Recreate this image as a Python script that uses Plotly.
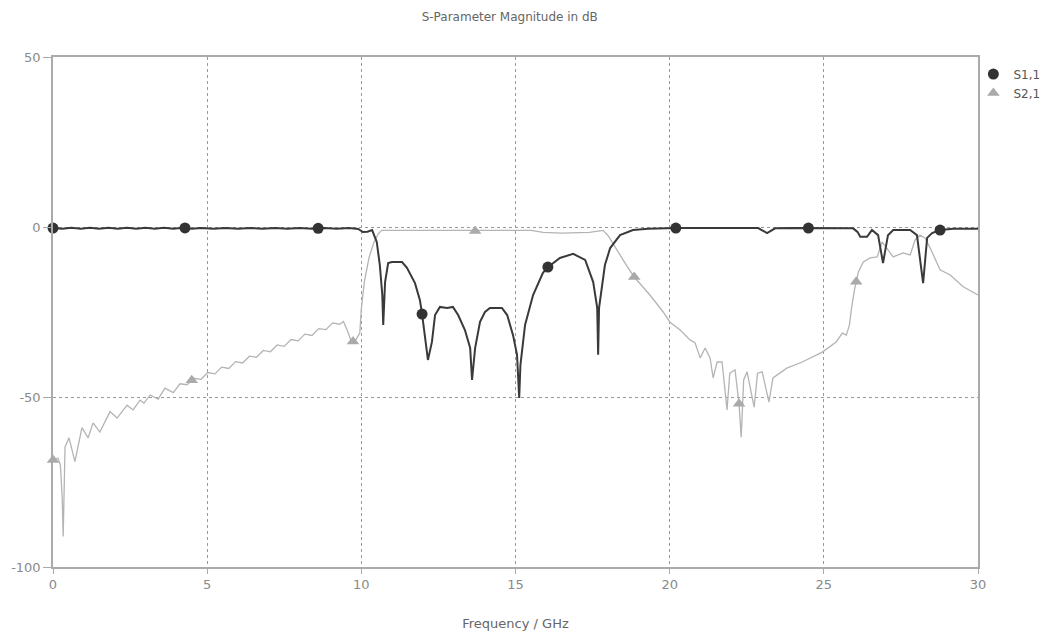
import numpy as np
import plotly.graph_objects as go

# ---------------- data ----------------
s11_x = [0.0, 0.3, 0.6, 0.9, 1.2, 1.5, 1.8, 2.1, 2.4, 2.7, 3.0, 3.3, 3.6, 3.9, 4.2, 4.5,
         4.8, 5.2, 5.6, 6.0, 6.4, 6.8, 7.2, 7.6, 8.0, 8.4, 8.8, 9.2, 9.6, 9.9,
         10.05, 10.2, 10.35, 10.5, 10.6, 10.68, 10.71, 10.77, 10.87, 10.99, 11.32,
         11.48, 11.74, 11.9, 11.97, 12.05, 12.16, 12.29, 12.39, 12.55, 12.78, 12.97,
         13.14, 13.36, 13.53, 13.59, 13.69, 13.85, 14.01, 14.17, 14.56, 14.73, 14.92,
         15.05, 15.12, 15.16, 15.31, 15.57, 15.89, 16.05, 16.44, 16.87, 17.26, 17.52,
         17.65, 17.68, 17.71, 17.9, 18.07, 18.39, 18.81, 19.3, 19.8, 20.2, 21.0, 22.0,
         22.87, 23.16, 23.42, 24.0, 24.5, 25.0, 25.95, 26.1, 26.18, 26.4, 26.56, 26.76,
         26.92, 27.08, 27.25, 27.8, 28.02, 28.22, 28.35, 28.51, 28.77, 29.2, 30.0]
s11_y = [-0.3, -0.5, -0.2, -0.5, -0.2, -0.5, -0.2, -0.5, -0.2, -0.5, -0.2, -0.5, -0.2, -0.5, -0.2, -0.5,
         -0.3, -0.5, -0.3, -0.5, -0.3, -0.5, -0.3, -0.5, -0.3, -0.5, -0.3, -0.5, -0.3, -0.6,
         -1.5, -1.4, -0.9, -4.4, -11.2, -20.0, -28.8, -16.2, -10.6, -10.3, -10.3,
         -12.0, -16.5, -21.5, -25.6, -31.0, -39.1, -33.8, -25.9, -23.5, -23.8, -23.5,
         -25.9, -30.3, -35.6, -45.0, -35.6, -27.9, -25.0, -23.8, -23.8, -25.9, -31.8,
         -37.6, -50.3, -40.6, -28.8, -20.0, -13.5, -11.8, -9.1, -7.9, -9.7, -16.2,
         -23.8, -37.6, -23.8, -11.2, -6.2, -2.4, -0.9, -0.5, -0.3, -0.3, -0.3, -0.3,
         -0.3, -1.8, -0.4, -0.3, -0.3, -0.4, -0.4, -1.5, -2.9, -2.9, -0.9, -2.4,
         -10.6, -2.4, -0.9, -0.9, -2.4, -16.5, -3.2, -1.8, -0.9, -0.5, -0.5]

s21_x = [0.0, 0.16, 0.24, 0.3, 0.33, 0.36, 0.39, 0.52, 0.71, 0.94, 1.14, 1.3, 1.52, 1.85,
         2.08, 2.4, 2.6, 2.82, 2.95, 3.15, 3.41, 3.63, 3.9, 4.12, 4.35, 4.57, 4.80, 5.02,
         5.25, 5.47, 5.70, 5.92, 6.15, 6.37, 6.60, 6.82, 7.05, 7.27, 7.50, 7.72, 7.95,
         8.17, 8.40, 8.62, 8.85, 9.07, 9.30, 9.42, 9.55, 9.68, 9.80, 9.95, 10.0, 10.1,
         10.25, 10.4, 10.55, 10.66, 11.5, 12.5, 13.69, 14.5, 15.5, 15.9, 16.5, 17.4,
         17.84, 18.0, 18.3, 18.6, 18.85, 19.36, 19.79, 20.01, 20.34, 20.66, 20.82,
         20.99, 21.15, 21.31, 21.41, 21.54, 21.70, 21.86, 21.95, 22.12, 22.25, 22.32,
         22.4, 22.51, 22.74, 22.85, 23.0, 23.22, 23.35, 23.8, 24.3, 24.95, 25.4, 25.6,
         25.73, 25.83, 25.9, 26.0, 26.12, 26.28, 26.5, 26.73, 26.89, 27.05, 27.25,
         27.57, 27.8, 27.96, 28.12, 28.28, 28.45, 28.77, 29.1, 29.52, 30.0]
s21_y = [-68.5, -68.0, -70.0, -80.0, -91.0, -75.0, -64.7, -62.0, -69.0, -59.0, -62.0, -57.6, -60.3, -54.3,
         -56.2, -52.4, -53.8, -50.9, -51.8, -49.4, -50.6, -47.4, -48.7, -46.1, -46.4, -44.5, -44.8, -42.8,
         -43.2, -41.2, -41.6, -39.6, -40.0, -38.0, -38.3, -36.3, -36.7, -34.7, -35.1, -33.1, -33.5,
         -31.5, -31.9, -29.9, -30.2, -28.2, -28.6, -27.8, -30.5, -33.8, -33.5, -31.2, -24.0, -16.0,
         -9.0, -4.7, -2.0, -1.0, -1.0, -1.1, -1.2, -1.0, -1.0, -1.6, -1.8, -1.6,
         -1.0, -2.5, -7.0, -11.3, -14.7, -20.0, -25.0, -28.0, -30.3, -33.2, -34.0,
         -38.5, -35.6, -38.5, -44.4, -39.7, -39.7, -53.8, -43.0, -42.0, -52.0, -61.8,
         -45.0, -42.6, -53.0, -43.0, -42.6, -51.5, -44.4, -41.5, -39.7, -36.8, -33.8, -31.2,
         -31.8, -28.8, -23.8, -18.2, -13.2, -10.3, -9.1, -8.8, -4.4, -6.2, -8.8,
         -7.6, -8.2, -3.8, -2.4, -3.2, -6.2, -12.6, -14.1, -17.6, -20.0]

s11_marker_x = [0.0, 4.28, 8.6, 11.97, 16.05, 20.2, 24.5, 28.77]
s21_marker_x = [0.0, 4.5, 9.73, 13.69, 18.85, 22.25, 26.05]

x_ticks = [0, 5, 10, 15, 20, 25, 30]
y_ticks = [-100, -50, 0, 50]

# ---------------- figure ----------------
S11_COLOR = "#3a3a3a"
S21_COLOR = "#b4b4b4"

fig = go.Figure()

fig.add_trace(go.Scatter(x=s21_x, y=s21_y, mode="lines",
                         line=dict(color=S21_COLOR, width=1.3),
                         showlegend=False, hoverinfo="skip"))
fig.add_trace(go.Scatter(x=s11_x, y=s11_y, mode="lines",
                         line=dict(color=S11_COLOR, width=2),
                         showlegend=False, hoverinfo="skip"))

fig.add_trace(go.Scatter(x=s21_marker_x, y=np.interp(s21_marker_x, s21_x, s21_y),
                         mode="markers", name="S2,1",
                         marker=dict(symbol="triangle-up", size=11, color="#aaaaaa"),
                         cliponaxis=False))
fig.add_trace(go.Scatter(x=s11_marker_x, y=np.interp(s11_marker_x, s11_x, s11_y),
                         mode="markers", name="S1,1",
                         marker=dict(symbol="circle", size=11, color="#333333"),
                         cliponaxis=False))

axis_font = dict(family="DejaVu Sans", size=13, color="#8a8a8a")

fig.update_layout(
    width=1041, height=630,
    margin=dict(l=45, r=71, t=49, b=71, autoexpand=False),
    paper_bgcolor="white", plot_bgcolor="white",
    title=dict(text="S-Parameter Magnitude in dB", x=0.482, xanchor="center",
               xref="container", yref="container", y=0.986, yanchor="middle",
               font=dict(family="DejaVu Sans", size=12, color="#666666")),
    legend=dict(x=0.995, y=0.995, xanchor="left", yanchor="top",
                traceorder="reversed", bgcolor="rgba(0,0,0,0)",
                font=dict(family="DejaVu Sans", size=12, color="#555555"),
                itemwidth=30, tracegroupgap=4),
    xaxis=dict(range=[0, 30], tickvals=x_ticks, ticktext=[str(v) for v in x_ticks],
               showgrid=True, gridcolor="#999999", griddash="dot", gridwidth=1,
               zeroline=False, showline=True, mirror=True, linecolor="#aaaaaa", linewidth=1.5,
               ticks="outside", ticklen=5, tickcolor="#aaaaaa", automargin=False,
               tickfont=axis_font,
               title=dict(text="Frequency / GHz", standoff=28,
                          font=dict(family="DejaVu Sans", size=13, color="#666666"))),
    yaxis=dict(range=[-100, 50], tickvals=y_ticks, ticktext=[str(v) for v in y_ticks],
               showgrid=True, gridcolor="#999999", griddash="dot", gridwidth=1,
               zeroline=False, showline=True, mirror=True, linecolor="#aaaaaa", linewidth=1.5,
               ticks="outside", ticklen=8, tickcolor="#aaaaaa", automargin=False,
               tickfont=axis_font),
)

fig.write_html("out.html")
